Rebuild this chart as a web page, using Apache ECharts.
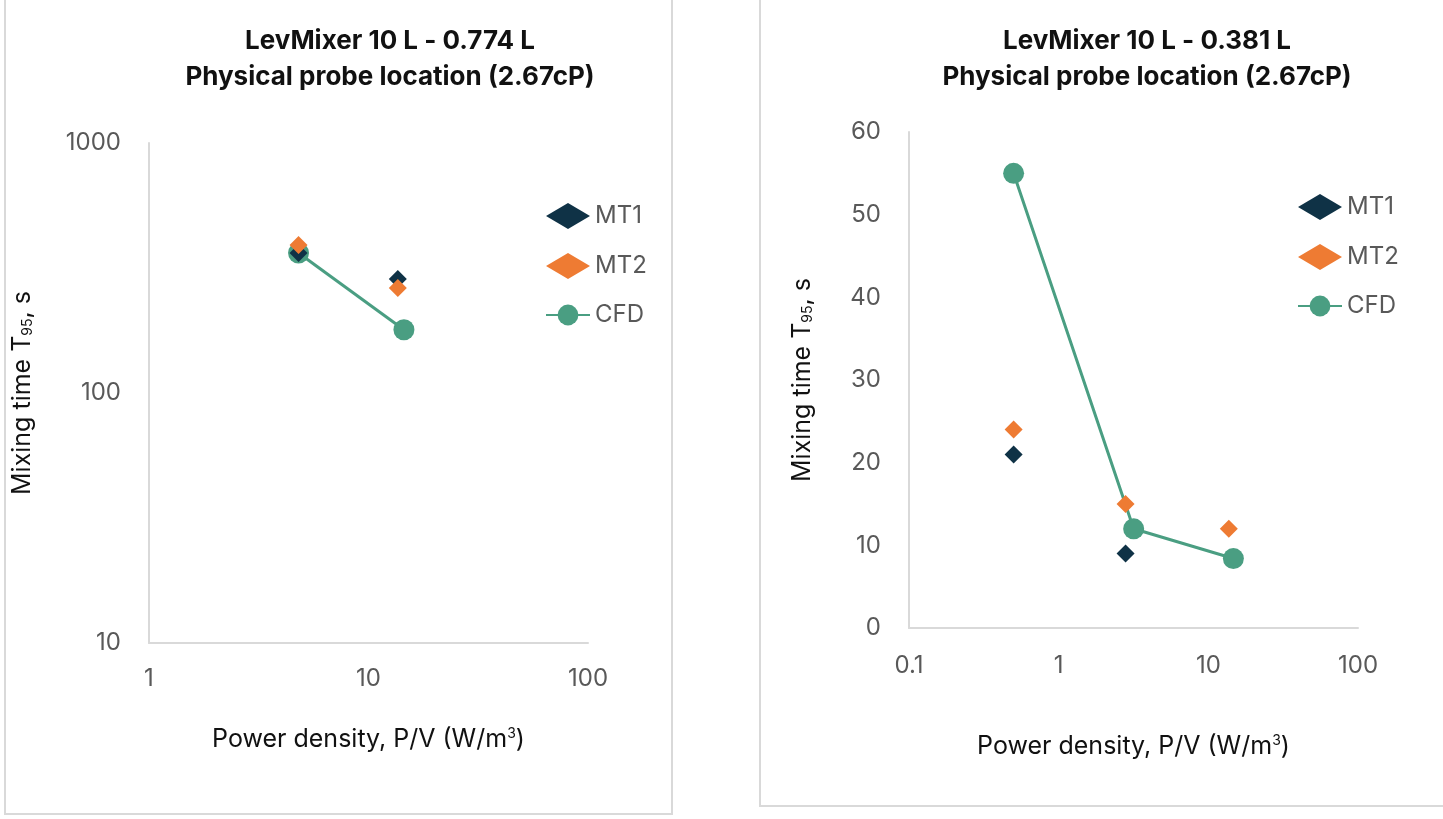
<!DOCTYPE html>
<html>
<head>
<meta charset="utf-8">
<script src="https://cdn.jsdelivr.net/npm/echarts@6/dist/echarts.min.js"></script>
<style>
  html, body { margin: 0; padding: 0; background: #fff; }
  #chart { width: 1443px; height: 819px; }
</style>
</head>
<body>
<div id="chart"></div>
<script>
// left chart: 0.774 L
const leftMT1 = [[4.8, 363], [13.6, 286]]
const leftMT2 = [[4.8, 391], [13.6, 263]]
const leftCFD = [[4.8, 363], [14.5, 179]]

// right chart: 0.381 L
const rightMT1 = [[0.5, 21], [2.8, 9]]
const rightMT2 = [[0.5, 24], [2.8, 15], [13.7, 12]]
const rightCFD = [[0.5, 55], [3.17, 12], [14.7, 8.4]]

const colMT1 = '#0f3246'
const colMT2 = '#ee7b33'
const colCFD = '#4a9e82'
const font = 'Inter, "Noto Sans", sans-serif'

const axisLabel = { color: '#595959', fontSize: 24, fontFamily: font, formatter: v => String(v) }
const axisLine = { show: true, lineStyle: { color: '#d9d9d9', width: 2 } }

const yName = '{m|Mixing time T}{s|95}{m|, s}'
const xName = '{m|Power density, P/V (W/m}{s|3}{m|)}'
const nameRich = {
  m: { fontSize: 25, color: '#111', fontFamily: font },
  s: { fontSize: 14, color: '#111', fontFamily: font, verticalAlign: 'bottom' }
}
const xRich = {
  m: { fontSize: 25, color: '#111', fontFamily: font },
  s: { fontSize: 14, color: '#111', fontFamily: font, verticalAlign: 'top' }
}

const chart = echarts.init(document.getElementById('chart'))

const scatter = (name, data, color, xi) => ({
  name, type: 'scatter', xAxisIndex: xi, yAxisIndex: xi, data, z: 5,
  symbol: 'diamond', symbolSize: 18, itemStyle: { color, opacity: 1 }
})
const line = (data, xi) => ({
  name: 'CFD', type: 'line', xAxisIndex: xi, yAxisIndex: xi, data, z: 2,
  symbol: 'circle', symbolSize: 21, itemStyle: { color: colCFD },
  lineStyle: { color: colCFD, width: 3 }
})

const legendBase = {
  orient: 'vertical', itemGap: 24, itemWidth: 44, itemHeight: 26,
  textStyle: { color: '#595959', fontSize: 24, fontFamily: font },
  data: [
    { name: 'MT1', icon: 'diamond', itemStyle: { opacity: 1 } },
    { name: 'MT2', icon: 'diamond', itemStyle: { opacity: 1 } },
    { name: 'CFD' }
  ]
}

const titleStyle = { fontSize: 26, fontWeight: 'bold', fontFamily: font, color: '#111', lineHeight: 36 }

chart.setOption({
  animation: false,
  graphic: [
    { type: 'rect', shape: { x: 5, y: -10, width: 667, height: 824 }, style: { fill: 'none', stroke: '#d9d9d9', lineWidth: 2 } },
    { type: 'rect', shape: { x: 760, y: -10, width: 690, height: 816 }, style: { fill: 'none', stroke: '#d9d9d9', lineWidth: 2 } }
  ],
  title: [
    { text: 'LevMixer 10 L - 0.774 L\nPhysical probe location (2.67cP)', left: 385, top: 18, textAlign: 'center', textStyle: titleStyle },
    { text: 'LevMixer 10 L - 0.381 L\nPhysical probe location (2.67cP)', left: 1142, top: 18, textAlign: 'center', textStyle: titleStyle }
  ],
  legend: [
    Object.assign({ left: 540, top: 198 }, legendBase),
    Object.assign({ left: 1292, top: 189 }, legendBase)
  ],
  grid: [
    { left: 149, top: 143, width: 439, height: 500 },
    { left: 909, top: 132, width: 449, height: 496 }
  ],
  xAxis: [
    {
      type: 'log', logBase: 10, min: 1, max: 100, gridIndex: 0,
      axisLine, axisTick: { show: false }, splitLine: { show: false },
      axisLabel: Object.assign({ margin: 24 }, axisLabel),
      name: xName, nameLocation: 'middle', nameGap: 84, nameTextStyle: { rich: xRich }
    },
    {
      type: 'log', logBase: 10, min: 0.1, max: 100, gridIndex: 1,
      axisLine, axisTick: { show: false }, splitLine: { show: false },
      axisLabel: Object.assign({ margin: 26 }, axisLabel),
      name: xName, nameLocation: 'middle', nameGap: 106, nameTextStyle: { rich: xRich }
    }
  ],
  yAxis: [
    {
      type: 'log', logBase: 10, min: 10, max: 1000, gridIndex: 0,
      axisLine, axisTick: { show: false }, splitLine: { show: false },
      axisLabel: Object.assign({ margin: 28 }, axisLabel),
      name: yName, nameLocation: 'middle', nameGap: 114, nameTextStyle: { rich: nameRich }
    },
    {
      type: 'value', min: 0, max: 60, interval: 10, gridIndex: 1,
      axisLine, axisTick: { show: false }, splitLine: { show: false },
      axisLabel: Object.assign({ margin: 28 }, axisLabel),
      name: yName, nameLocation: 'middle', nameGap: 94, nameTextStyle: { rich: nameRich }
    }
  ],
  series: [
    line(leftCFD, 0),
    scatter('MT1', leftMT1, colMT1, 0),
    scatter('MT2', leftMT2, colMT2, 0),
    line(rightCFD, 1),
    scatter('MT1', rightMT1, colMT1, 1),
    scatter('MT2', rightMT2, colMT2, 1)
  ]
})
</script>
</body>
</html>
